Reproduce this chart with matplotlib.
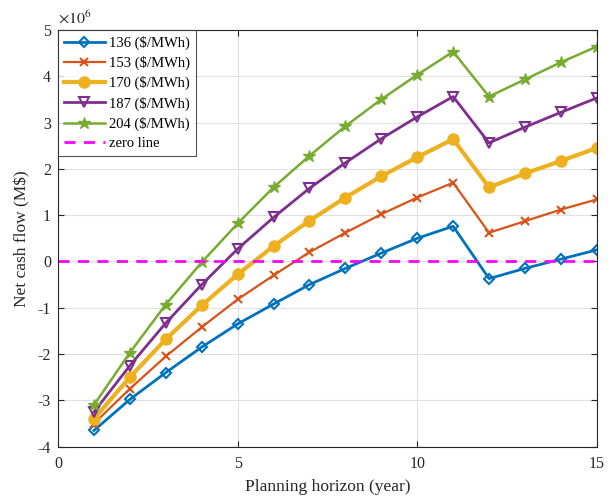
import matplotlib
matplotlib.use("Agg")
import matplotlib.pyplot as plt
import numpy as np

years = list(range(1, 16))
labels = ["136 ($/MWh)", "153 ($/MWh)", "170 ($/MWh)", "187 ($/MWh)", "204 ($/MWh)"]
s136 = [-3.65, -2.98, -2.40, -1.85, -1.35, -0.92, -0.50, -0.15, 0.18, 0.50, 0.76, -0.37, -0.15, 0.05, 0.25]
s153 = [-3.50, -2.75, -2.05, -1.42, -0.82, -0.30, 0.20, 0.62, 1.02, 1.38, 1.70, 0.62, 0.87, 1.12, 1.34]
s170 = [-3.40, -2.50, -1.68, -0.95, -0.28, 0.33, 0.88, 1.38, 1.84, 2.25, 2.64, 1.60, 1.90, 2.17, 2.45]
s187 = [-3.25, -2.25, -1.33, -0.50, 0.27, 0.95, 1.58, 2.13, 2.65, 3.12, 3.56, 2.56, 2.90, 3.22, 3.53]
s204 = [-3.10, -1.97, -0.93, -0.02, 0.82, 1.60, 2.28, 2.92, 3.50, 4.03, 4.53, 3.56, 3.93, 4.30, 4.64]
series = [s136, s153, s170, s187, s204]
zero_x = [0, 15]
zero_y = [0, 0]
scale = 1e6

plt.rcParams['font.family'] = ['Liberation Serif', 'DejaVu Serif']
plt.rcParams['mathtext.fontset'] = 'stix'

fig = plt.figure(figsize=(6.13, 4.98), dpi=100)
ax = fig.add_axes([0.0946, 0.103, 0.879, 0.837])

colors = ['#0072BD', '#D95319', '#EDB120', '#7E2F8E', '#77AC30']
markers = ['D', 'x', 'o', 'v', '*']
lws = [2.0, 1.6, 3.0, 2.0, 1.8]
msz = [5, 6, 8, 7, 9]
mfc = ['none', colors[1], colors[2], 'none', colors[4]]
mew = [1.5, 1.5, 1.0, 1.5, 1.0]

for vals, lab, c, m, lw, ms, fc, ew in zip(series, labels, colors, markers, lws, msz, mfc, mew):
    ax.plot(years, np.array(vals) * scale, color=c, marker=m, lw=lw, ms=ms,
            markerfacecolor=fc, markeredgecolor=c, markeredgewidth=ew, label=lab)

ax.plot(zero_x, zero_y, color='#FF00FF', ls='--', lw=2, dashes=(4, 3), label='zero line')

ax.set_xlim(0, 15)
ax.set_ylim(-4e6, 5e6)
ax.set_xticks([0, 5, 10, 15])
yt = np.arange(-4, 6)
ax.set_yticks(yt * scale)
ax.set_yticklabels([str(v) for v in yt])
ax.text(0.0, 1.005, r'$\times10^{6}$', transform=ax.transAxes, fontsize=11.5, ha='left', va='bottom', color='#262626')

ax.grid(True, color='#E0E0E0', lw=0.8)
ax.set_axisbelow(True)
ax.tick_params(direction='in', top=True, right=True, labelsize=11.5, colors='#262626', length=4)
ax.tick_params(axis='x', pad=7)
ax.tick_params(axis='y', pad=5)
for sp in ax.spines.values():
    sp.set_color('#262626')
    sp.set_linewidth(0.8)

ax.set_xlabel('Planning horizon (year)', fontsize=12.5, color='#262626', labelpad=5)
ax.set_ylabel('Net cash flow (M$)', fontsize=12.5, color='#262626', labelpad=5)

leg = ax.legend(loc='upper left', fontsize=10.5, frameon=True, fancybox=False,
                borderaxespad=0, handlelength=2.8, borderpad=0.4, labelspacing=0.42,
                handletextpad=0.3)
leg.get_frame().set_edgecolor('#262626')
leg.get_frame().set_linewidth(0.8)

fig.savefig('out.png', dpi=100)
